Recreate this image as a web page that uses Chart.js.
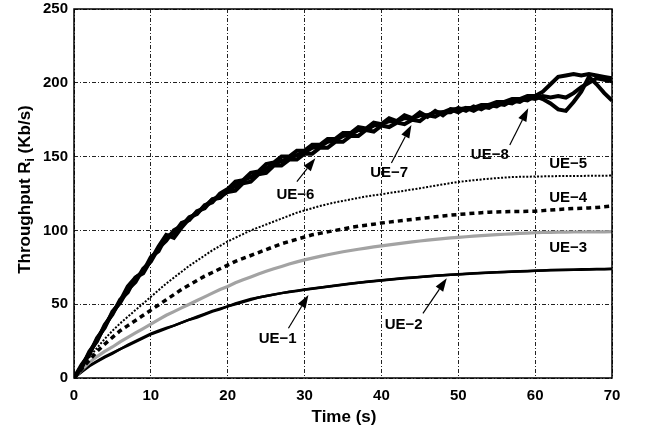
<!DOCTYPE html>
<html><head><meta charset="utf-8">
<script src="https://cdn.jsdelivr.net/npm/chart.js@4.4.1/dist/chart.umd.min.js"></script>
<style>html,body{margin:0;padding:0;background:#fff}#wrap{width:647px;height:429px;position:relative}</style>
</head><body><div id="wrap"><canvas id="c" width="647" height="429"></canvas></div>
<script>
const time = [0,1,2,3,4,5,6,7,8,9,10,11,12,13,14,15,16,17,18,19,20,21,22,23,24,25,26,27,28,29,30,31,32,33,34,35,36,37,38,39,40,41,42,43,44,45,46,47,48,49,50,51,52,53,54,55,56,57,58,59,60,61,62,63,64,65,66,67,68,69,70];

const ue1 = [0,4,8,11,14,16.5,19.5,22,24.5,27,
29.5,31.5,33.5,35.5,37.5,39.5,41.5,43.5,45.5,47,
48.5,50.5,52,53.5,54.6,55.6,56.6,57.5,58.3,59,
59.8,60.5,61.2,62,62.7,63.3,64,64.6,65.2,65.7,
66.2,66.7,67.2,67.7,68.1,68.5,68.9,69.3,69.6,70,
70.3,70.6,70.9,71.2,71.4,71.6,71.8,72,72.2,72.4,
72.6,72.8,73,73.1,73.2,73.3,73.4,73.5,73.6,73.7,73.8];

const ue2 = [0,4.5,8.5,11.5,14.5,17,19.5,22.5,25,27.5,
30,32,34,35.5,37.5,39.5,41,43,45,46.5,
48.5,50,51.5,53,54.5,55.5,56.5,57.5,58.5,59.2,
60,60.6,61.3,61.9,62.5,63.2,63.8,64.5,65,65.6,
66.1,66.6,67.1,67.6,68,68.4,68.8,69.2,69.6,69.9,
70.2,70.5,70.8,71.1,71.3,71.6,71.8,72.1,72.3,72.5,
72.7,72.9,73.1,73.2,73.3,73.4,73.6,73.7,73.8,73.9,74];

const ue3 = [0,5.5,10.5,14.5,18,21,24.5,27.5,30.5,33.5,
36.5,39.5,42.5,45,47.5,50,52.5,55,57.5,60,
62,64.5,66.5,68.5,70.5,72.3,74,75.6,77.2,78.7,
80,81.2,82.4,83.5,84.5,85.5,86.4,87.2,88,88.8,
89.5,90.2,90.9,91.6,92.2,92.8,93.4,93.9,94.4,94.9,
95.3,95.7,96.1,96.5,96.8,97.1,97.4,97.7,98,98.2,
98.4,98.6,98.7,98.8,98.8,98.9,98.9,99,99,99,99.2];

const ue4 = [0,6,12,18,23,27.5,32,35.5,39,42.5,
46,49.5,53,56.5,60,63,66,69,71.5,74,
76.5,79,81,83,85,87,89,91,92.5,94,
95.5,97,98,99,100,101,102,102.8,103.5,104.2,
105,105.6,106.2,106.8,107.4,108,108.6,109.2,109.8,110.3,
110.8,111.2,111.6,112,112.3,112.5,112.7,112.8,112.8,112.9,
113,113.4,113.8,114.2,114.5,114.8,115,115.2,115.5,116,116.5];

const ue5 = [0,7,14,20.5,26.5,32,37,41.5,46,50.5,
55,59.5,64,68,72,76,79.5,83,86.5,89.5,
92.5,95,97.5,100,102,104,106,108,110,112,
113.5,115,116.5,117.8,119,120,121,122,123,123.8,
124.5,125.3,126.1,126.9,127.7,128.5,129.4,130.3,131.2,132,
132.8,133.4,134,134.5,135,135.4,135.8,136.1,136.3,136.4,
136.5,136.6,136.7,136.8,136.8,136.9,136.9,137,137,137,137.2];

const ue6 = [0,9,16,27,34,45,51,60,65,74,
79,88,93,100,103,109,111,117,119,125,
128,133,134,139,140,145,146,150,150,154,
154,158,158,162,162,166,166,170,169,173,
172,176,174,178,176,180,177,181,178,182,
180,183,181,184,183,186,185,188,187,190,
189,191,190,191,190,193,197,200,203,202,201];

const ue7 = [0,7,18,25,36,43,53,58,68,72,
82,86,96,98,105,107,113,115,121,123,
126,127,132,133,138,139,144,144,148,148,
152,152,156,156,160,160,164,164,168,167,
171,170,173,172,175,174,178,177,180,180,
183,181,184,182,185,184,187,186,189,188,
191,189,186,182,181,187,194,204,199,193,188];

const ue8 = [0,8,17,26,35,44,52,62,68,71,
80,89,97,95,102,108,112,116,121,122,
127,130,134,136,139,142,145,147,149,151,
153,156,157,160,161,164,165,168,168,171,
172,174,174,176,176,178,178,180,180,182,
182,183,183,185,185,187,187,189,189,191,
191,194,199,204,205,206,205,206,205,204,203];

const xTicks = [0,10,20,30,40,50,60,70];
const yTicks = [0,50,100,150,200,250];

// label annotations (data coordinates): text centre, arrow start, arrow tip
const notes = [
  {text:'UE\u22121', tx:26.5, ty:26.8, ax:27.9, ay:33.7, hx:30.5, hy:56.2},
  {text:'UE\u22122', tx:42.9, ty:36.2, ax:45.4, ay:43.8, hx:48.5, hy:67.5},
  {text:'UE\u22123', tx:64.3, ty:88.4},
  {text:'UE\u22124', tx:64.3, ty:121.9},
  {text:'UE\u22125', tx:64.3, ty:145.3},
  {text:'UE\u22126', tx:28.8, ty:124.0, ax:29.0, ay:133.0, hx:31.4, hy:148.9},
  {text:'UE\u22127', tx:41.0, ty:138.7, ax:41.3, ay:145.7, hx:43.9, hy:171.4},
  {text:'UE\u22128', tx:54.1, ty:151.5, ax:56.7, ay:157.9, hx:59.1, hy:182.7}
];

const FONT = "'Liberation Sans', Arial, Helvetica, sans-serif";

function arrow(ctx,x1,y1,x2,y2){
  const ang = Math.atan2(y2-y1,x2-x1), L = 13, W = 4.5;
  const bx = x2 - L*Math.cos(ang), by = y2 - L*Math.sin(ang);
  ctx.beginPath(); ctx.moveTo(x1,y1); ctx.lineTo(bx,by);
  ctx.lineWidth = 1.2; ctx.strokeStyle = '#000'; ctx.stroke();
  ctx.beginPath(); ctx.moveTo(x2,y2);
  ctx.lineTo(bx + W*Math.sin(ang), by - W*Math.cos(ang));
  ctx.lineTo(bx - W*Math.sin(ang), by + W*Math.cos(ang));
  ctx.closePath(); ctx.fillStyle = '#000'; ctx.fill();
}

const deco = {
  id:'deco',
  afterDraw(chart){
    const ctx = chart.ctx, a = chart.chartArea, xs = chart.scales.x, ys = chart.scales.y;
    ctx.save();
    ctx.strokeStyle = '#000'; ctx.lineWidth = 1.5; ctx.setLineDash([]);
    ctx.strokeRect(a.left, a.top, a.right - a.left, a.bottom - a.top);
    ctx.font = 'bold 15px ' + FONT; ctx.fillStyle = '#000';
    ctx.textAlign = 'center'; ctx.textBaseline = 'middle';
    notes.forEach(n => {
      ctx.fillText(n.text, xs.getPixelForValue(n.tx), ys.getPixelForValue(n.ty));
      if (n.ax !== undefined) arrow(ctx, xs.getPixelForValue(n.ax), ys.getPixelForValue(n.ay), xs.getPixelForValue(n.hx), ys.getPixelForValue(n.hy));
    });
    ctx.font = 'bold 17px ' + FONT;
    ctx.fillText('Time (s)', (a.left + a.right)/2 + 1, 417);
    ctx.translate(25, (a.top + a.bottom)/2 - 4);
    ctx.rotate(-Math.PI/2);
    const p1 = 'Throughput R', sub = 'i', p2 = ' (Kb/s)';
    ctx.font = 'bold 17px ' + FONT; const w1 = ctx.measureText(p1).width, w3 = ctx.measureText(p2).width;
    ctx.font = 'bold 12px ' + FONT; const w2 = ctx.measureText(sub).width;
    let x = -(w1 + w2 + w3)/2;
    ctx.textAlign = 'left';
    ctx.font = 'bold 17px ' + FONT; ctx.fillText(p1, x, 0); x += w1;
    ctx.font = 'bold 12px ' + FONT; ctx.fillText(sub, x, 6); x += w2;
    ctx.font = 'bold 17px ' + FONT; ctx.fillText(p2, x, 0);
    ctx.restore();
  }
};

const gridCommon = {color:'#222', lineWidth:1, drawTicks:false};
const thick = {borderColor:'#000', borderWidth:4, pointRadius:0, tension:0};

new Chart(document.getElementById('c'), {
  type:'line',
  data:{
    labels: time,
    datasets:[
      Object.assign({label:'UE-8', data:ue8}, thick),
      Object.assign({label:'UE-7', data:ue7}, thick),
      Object.assign({label:'UE-6', data:ue6}, thick),
      {label:'UE-5', data:ue5, borderColor:'#000', borderWidth:2, borderDash:[2,1.6], pointRadius:0},
      {label:'UE-4', data:ue4, borderColor:'#000', borderWidth:3.5, borderDash:[5,4], pointRadius:0},
      {label:'UE-3', data:ue3, borderColor:'#a3a3a3', borderWidth:3.2, pointRadius:0},
      {label:'UE-2', data:ue2, borderColor:'#000', borderWidth:2.5, pointRadius:0},
      {label:'UE-1', data:ue1, borderColor:'#000', borderWidth:2.5, pointRadius:0}
    ]
  },
  options:{
    responsive:false, animation:false, devicePixelRatio:1,
    layout:{padding:{left:0, right:35, top:9, bottom:0}},
    plugins:{legend:{display:false}, tooltip:{enabled:false}},
    scales:{
      x:{type:'linear', min:0, max:70,
         afterFit(s){ s.height = 51; s.paddingLeft = 0; s.paddingRight = 0; },
         afterBuildTicks(s){ s.ticks = xTicks.map(v=>({value:v})); },
         grid:gridCommon, border:{display:false, dash:[4,2,1,2]},
         ticks:{color:'#000', padding:9, maxRotation:0, font:{family:FONT, size:15, weight:'bold'}}},
      y:{type:'linear', min:0, max:250,
         afterFit(s){ s.width = 74; s.paddingTop = 0; s.paddingBottom = 0; },
         afterBuildTicks(s){ s.ticks = yTicks.map(v=>({value:v})); },
         grid:gridCommon, border:{display:false, dash:[4,2,1,2]},
         ticks:{color:'#000', padding:6, font:{family:FONT, size:15, weight:'bold'}}}
    }
  },
  plugins:[deco]
});
</script></body></html>
